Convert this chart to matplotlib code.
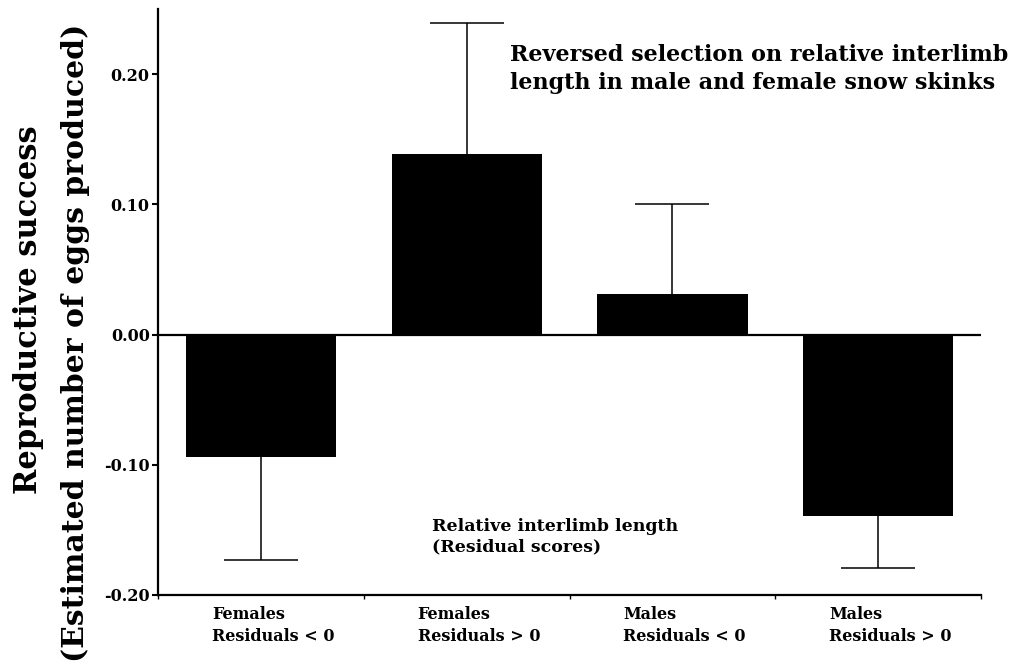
import numpy as np
import matplotlib
matplotlib.use("Agg")
import matplotlib.pyplot as plt
from matplotlib.transforms import ScaledTranslation

# data
groups = ["Females\nResiduals < 0", "Females\nResiduals > 0",
          "Males\nResiduals < 0", "Males\nResiduals > 0"]
means = [-0.094, 0.139, 0.031, -0.139]
errors = [0.079, 0.100, 0.069, 0.040]
yticks = [-0.20, -0.10, 0.00, 0.10, 0.20]

plt.rcParams["font.family"] = ["DejaVu Serif"]
plt.rcParams["font.weight"] = "bold"

fig = plt.figure(figsize=(10.22, 6.65), dpi=100)
ax = fig.add_axes([0.1546, 0.1053, 0.8054, 0.8812])

x = np.arange(len(groups))
means = np.array(means)
errors = np.array(errors)
# error bars only on the side away from zero
lower = np.where(means < 0, errors, 0)
upper = np.where(means >= 0, errors, 0)

ax.bar(x, means, width=0.73, color="black", edgecolor="none", zorder=2)
eb = ax.errorbar(x, means, yerr=[lower, upper], fmt="none", ecolor="black",
                 elinewidth=1.1, capsize=26.5, capthick=1.1, zorder=1)
# drop the caps that sit on the bar end (zero-length side)
lo_cap, hi_cap = eb[1]
lo_cap.set_data(x[lower > 0], (means - lower)[lower > 0])
hi_cap.set_data(x[upper > 0], (means + upper)[upper > 0])
ax.axhline(0, color="black", lw=1.6, zorder=3)

ax.set_xlim(-0.5, len(groups) - 0.5)
ax.set_ylim(-0.20, 0.25)
ax.set_yticks(yticks)
ax.set_yticklabels([f"{v:.2f}" for v in yticks])

ax.spines["top"].set_visible(False)
ax.spines["right"].set_visible(False)
ax.spines["left"].set_linewidth(1.6)
ax.spines["bottom"].set_linewidth(1.6)

ax.tick_params(axis="y", direction="out", length=4, width=1.5, labelsize=11.5, pad=2)
ax.set_xticks(x)
ax.set_xticklabels(groups, fontsize=11.5, ha="left", linespacing=1.4)
ax.set_xticks(np.arange(-0.5, len(groups)), minor=True)
ax.tick_params(axis="x", which="major", length=0, pad=8)
ax.tick_params(axis="x", which="minor", direction="out", length=3, width=1)
shift = ScaledTranslation(-0.49, 0, fig.dpi_scale_trans)
for lab in ax.get_xticklabels():
    lab.set_transform(lab.get_transform() + shift)

fig.text(0.028, 0.535, "Reproductive success", rotation=90,
         ha="center", va="center", fontsize=22)
fig.text(0.074, 0.485, "(Estimated number of eggs produced)", rotation=90,
         ha="center", va="center", fontsize=21.5)

ax.text(0.428, 0.94, "Reversed selection on relative interlimb\nlength in male and female snow skinks",
        transform=ax.transAxes, ha="left", va="top", fontsize=16, linespacing=1.35)
ax.text(0.333, 0.131, "Relative interlimb length\n(Residual scores)",
        transform=ax.transAxes, ha="left", va="top", fontsize=12.5, linespacing=1.25)

fig.savefig("out.png", dpi=100)
